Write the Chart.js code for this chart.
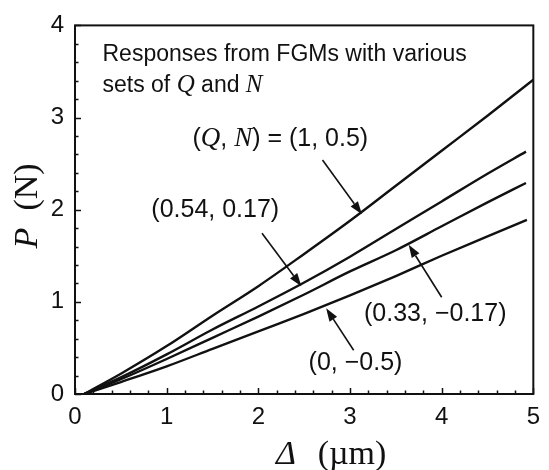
<!DOCTYPE html>
<html>
<head>
<meta charset="utf-8">
<script src="https://cdn.jsdelivr.net/npm/chart.js@4.4.0/dist/chart.umd.min.js"></script>
<style>
  html, body { margin: 0; padding: 0; background: #fff; }
  #wrap { width: 549px; height: 470px; position: relative; }
</style>
</head>
<body>
<div id="wrap"><canvas id="myChart"></canvas></div>
<script>
// data: displacement (um) vs load (N)
const deltaA = [0.1, 0.5, 1, 1.5, 2, 2.5, 3, 3.5, 4, 4.5, 5];
const loadA  = [0, 0.22, 0.52, 0.85, 1.17, 1.52, 1.88, 2.26, 2.64, 3.02, 3.41];   // (Q,N) = (1, 0.5)
const deltaB = [0.1, 0.5, 1, 1.5, 2, 2.5, 3, 3.5, 4, 4.5, 4.92];
const loadB  = [0, 0.18, 0.43, 0.70, 0.95, 1.21, 1.49, 1.79, 2.09, 2.39, 2.63];   // (0.54, 0.17)
const deltaC = [0.1, 0.5, 1, 1.5, 2, 2.5, 3, 3.5, 4, 4.5, 4.92];
const loadC  = [0, 0.16, 0.38, 0.61, 0.84, 1.08, 1.33, 1.56, 1.82, 2.08, 2.29];   // (0.33, -0.17)
const deltaD = [0.1, 0.5, 1, 1.5, 2, 2.5, 3, 3.5, 4, 4.5, 4.93];
const loadD  = [0, 0.13, 0.30, 0.49, 0.68, 0.87, 1.07, 1.28, 1.50, 1.71, 1.89];   // (0, -0.5)

const xTicks = [0, 1, 2, 3, 4, 5];
const yTicks = [0, 1, 2, 3, 4];

const SANS = "'Liberation Sans', Arial, Helvetica, sans-serif";
const SERIF = "'Liberation Serif', 'Times New Roman', serif";

function pts(xs, ys) {
  return xs.map((v, i) => ({x: v, y: ys[i]}));
}

// labels + arrows (data coordinates)
const labels = [
  {x: 2.24, y: 2.77, parts: [['(', 0], ['Q', 1], [', ', 0], ['N', 1], [') = (1, 0.5)', 0]]},
  {x: 1.53, y: 2.0,  parts: [['(0.54, 0.17)', 0]]},
  {x: 3.93, y: 0.87, parts: [['(0.33, \u22120.17)', 0]]},
  {x: 3.06, y: 0.34, parts: [['(0, \u22120.5)', 0]]}
];
const arrows = [
  {from: [2.70, 2.54], to: [3.13, 1.95]},
  {from: [2.04, 1.745], to: [2.47, 1.17]},
  {from: [4.00, 1.05], to: [3.64, 1.62]},
  {from: [3.04, 0.475], to: [2.74, 0.93]}
];

function drawParts(ctx, parts, cx, cy, align, size) {
  const fonts = [size + 'px ' + SANS, 'italic ' + (size + 2) + 'px ' + SERIF];
  let total = 0;
  parts.forEach(p => { ctx.font = fonts[p[1]]; total += ctx.measureText(p[0]).width; });
  let xx = align === 'left' ? cx : cx - total / 2;
  ctx.textAlign = 'left';
  parts.forEach(p => {
    ctx.font = fonts[p[1]];
    ctx.fillText(p[0], xx, cy);
    xx += ctx.measureText(p[0]).width;
  });
}

const overlay = {
  id: 'overlay',
  afterDatasetsDraw(chart) {
    const {ctx, chartArea: a, scales: {x, y}} = chart;
    ctx.save();
    ctx.strokeStyle = '#111';
    ctx.fillStyle = '#111';

    // inward ticks on left and bottom
    ctx.lineWidth = 1.5;
    ctx.beginPath();
    for (let i = 0; i <= 25; i++) {
      const px = Math.round(x.getPixelForValue(i * 0.2)) + 0.5;
      const len = i % 5 === 0 ? 6 : 3.5;
      ctx.moveTo(px, a.bottom);
      ctx.lineTo(px, a.bottom - len);
    }
    for (let i = 0; i <= 20; i++) {
      const py = Math.round(y.getPixelForValue(i * 0.2)) + 0.5;
      const len = i % 5 === 0 ? 6 : 3.5;
      ctx.moveTo(a.left, py);
      ctx.lineTo(a.left + len, py);
    }
    ctx.stroke();

    // plot box
    ctx.lineWidth = 2;
    ctx.strokeRect(a.left, a.top, a.right - a.left, a.bottom - a.top);

    // arrows
    ctx.lineWidth = 1.6;
    arrows.forEach(ar => {
      const x0 = x.getPixelForValue(ar.from[0]), y0 = y.getPixelForValue(ar.from[1]);
      const x1 = x.getPixelForValue(ar.to[0]), y1 = y.getPixelForValue(ar.to[1]);
      const ang = Math.atan2(y1 - y0, x1 - x0);
      const hl = 13, hw = 4.5;
      const bx = x1 - hl * Math.cos(ang), by = y1 - hl * Math.sin(ang);
      ctx.beginPath();
      ctx.moveTo(x0, y0);
      ctx.lineTo(bx, by);
      ctx.stroke();
      ctx.beginPath();
      ctx.moveTo(x1, y1);
      ctx.lineTo(bx + hw * Math.sin(ang), by - hw * Math.cos(ang));
      ctx.lineTo(bx - hw * Math.sin(ang), by + hw * Math.cos(ang));
      ctx.closePath();
      ctx.fill();
    });

    // labels
    ctx.textBaseline = 'middle';
    labels.forEach(l => {
      drawParts(ctx, l.parts, x.getPixelForValue(l.x), y.getPixelForValue(l.y), 'center', 25);
    });

    // note in upper left
    ctx.textBaseline = 'alphabetic';
    const nx = x.getPixelForValue(0.3);
    drawParts(ctx, [['Responses from FGMs with various', 0]], nx, y.getPixelForValue(3.615), 'left', 23);
    drawParts(ctx, [['sets of ', 0], ['Q', 1], [' and ', 0], ['N', 1]], nx, y.getPixelForValue(3.28), 'left', 23);

    // axis titles
    ctx.font = 'italic 34px ' + SERIF;
    ctx.textAlign = 'center';
    ctx.fillText('\u0394', 286, 464);
    ctx.font = '34px ' + SERIF;
    ctx.fillText('(\u00b5m)', 352, 464);

    ctx.save();
    ctx.translate(37, 0);
    ctx.rotate(-Math.PI / 2);
    ctx.font = 'italic 34px ' + SERIF;
    ctx.fillText('P', -238, 0);
    ctx.font = '34px ' + SERIF;
    ctx.fillText('(N)', -187, 0);
    ctx.restore();

    ctx.restore();
  }
};

const lineStyle = {
  showLine: true,
  borderColor: '#111',
  borderWidth: 2.4,
  pointRadius: 0,
  fill: false,
  cubicInterpolationMode: 'monotone'
};

const ctx = document.getElementById('myChart').getContext('2d');
const myChart = new Chart(ctx, {
  type: 'scatter',
  data: {
    datasets: [
      Object.assign({label: '(1, 0.5)', data: pts(deltaA, loadA)}, lineStyle),
      Object.assign({label: '(0.54, 0.17)', data: pts(deltaB, loadB)}, lineStyle),
      Object.assign({label: '(0.33, -0.17)', data: pts(deltaC, loadC)}, lineStyle),
      Object.assign({label: '(0, -0.5)', data: pts(deltaD, loadD)}, lineStyle)
    ]
  },
  plugins: [overlay],
  options: {
    responsive: true,
    maintainAspectRatio: false,
    animation: false,
    layout: {padding: {top: 12, right: 5, left: 0, bottom: 0}},
    plugins: {
      legend: {display: false},
      tooltip: {enabled: false}
    },
    scales: {
      x: {
        type: 'linear',
        min: 0,
        max: 5,
        afterBuildTicks: (s) => { s.ticks = xTicks.map(v => ({value: v})); },
        afterFit: (s) => { s.height = 76; },
        grid: {display: false, drawTicks: false},
        border: {display: false},
        ticks: {color: '#111', font: {family: SANS, size: 24}, padding: 9, maxRotation: 0}
      },
      y: {
        min: 0,
        max: 4,
        afterBuildTicks: (s) => { s.ticks = yTicks.map(v => ({value: v})); },
        afterFit: (s) => { s.width = 75; },
        grid: {display: false, drawTicks: false},
        border: {display: false},
        ticks: {color: '#111', font: {family: SANS, size: 24}, padding: 11}
      }
    }
  }
});
</script>
</body>
</html>
